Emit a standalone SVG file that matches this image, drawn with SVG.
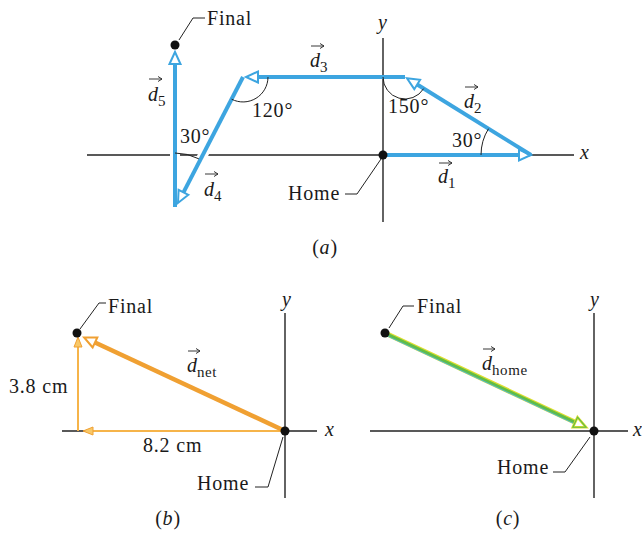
<svg xmlns="http://www.w3.org/2000/svg" width="642" height="537" viewBox="0 0 642 537">
<style>
.t{font-family:"Liberation Serif","Times New Roman",serif;font-size:20px;fill:#1a1a1a;letter-spacing:0.8px}
.v{font-family:"Liberation Serif","Times New Roman",serif;font-size:20px;font-style:italic;fill:#1a1a1a}
.sub{font-style:normal;font-size:15px;letter-spacing:0.6px}
.ax{stroke:#222;stroke-width:1.4;fill:none}
.ld{stroke:#222;stroke-width:1;fill:none}
.arc{stroke:#222;stroke-width:1;fill:none}
.va{stroke:#222;stroke-width:0.9;fill:none;marker-end:url(#va)}
.blue{stroke:#3da5e0;stroke-width:4;fill:none;marker-end:url(#ahB)}
.halo{stroke:#fff;stroke-width:10;fill:none}
.net{stroke:#f0a032;stroke-width:4.5;fill:none;marker-end:url(#ahO)}
.cmp{stroke:#f6b44a;stroke-width:2;fill:none;marker-end:url(#ahC)}
.dot{fill:#111}
</style>
<defs>
<marker id="ahB" markerUnits="userSpaceOnUse" viewBox="-2 -8 17 16" markerWidth="17" markerHeight="16" refX="0" refY="0" orient="auto" overflow="visible">
<path d="M0,-5.5 L12,0 L0,5.5 Z" fill="#fff" stroke="#3da5e0" stroke-width="2"/>
</marker>
<marker id="ahO" markerUnits="userSpaceOnUse" viewBox="-2 -8 17 16" markerWidth="17" markerHeight="16" refX="0" refY="0" orient="auto" overflow="visible">
<path d="M0,-5.5 L12,0 L0,5.5 Z" fill="#fff" stroke="#f0a032" stroke-width="2"/>
</marker>
<marker id="ahC" markerUnits="userSpaceOnUse" viewBox="-2 -6 14 12" markerWidth="14" markerHeight="12" refX="0" refY="0" orient="auto" overflow="visible">
<path d="M0,-4 L10,0 L0,4 Z" fill="#f8c868" stroke="#f0a032" stroke-width="1"/>
</marker>
<marker id="ahG" markerUnits="userSpaceOnUse" viewBox="-2 -8 17 16" markerWidth="17" markerHeight="16" refX="0" refY="0" orient="auto" overflow="visible">
<path d="M0,-5.5 L12,0 L0,5.5 Z" fill="#fff" stroke="#dede30" stroke-width="2.6"/>
<path d="M0,-5.5 L12,0 L0,5.5 Z" fill="none" stroke="#62bd45" stroke-width="1.1"/>
</marker>
<marker id="va" markerUnits="userSpaceOnUse" viewBox="-5 -3 6 6" markerWidth="6" markerHeight="6" refX="0" refY="0" orient="auto" overflow="visible">
<path d="M-4,-2.5 L0,0 L-4,2.5" fill="none" stroke="#222" stroke-width="0.9"/>
</marker>
</defs>

<!-- Panel (a) -->
<g id="axes-a">
<path class="ax" d="M87,155 H574"/>
<path class="ax" d="M383,38 V222"/>
<text class="v" x="580" y="159">x</text>
<text class="v" x="378" y="29">y</text>
</g>
<g id="connectors-a">
<path class="halo" d="M175,200 V70"/>
<path class="halo" d="M240,83 L185,190"/>
<path class="blue" d="M383,155 H519"/>
<path class="blue" d="M531,155 L417.2,84.5"/>
<path class="blue" d="M405,77 H258"/>
<path class="blue" d="M243,77 L183.5,192.3"/>
<path class="blue" d="M175,207 V64"/>
<path class="arc" d="M481,155 A50,50 0 0 1 488.5,128.7"/>
<path class="arc" d="M383,77 A22,22 0 0 0 423.7,88.6"/>
<path class="arc" d="M268,77 A25,25 0 0 1 231.6,99.2"/>
<path class="arc" d="M175,153 A52,52 0 0 1 198.8,158.8"/>
<path class="ld" d="M179,40 L193,18 H205"/>
<path class="ld" d="M345,194 H357 L381,159"/>
</g>
<g id="home-a">
<circle class="dot" cx="383" cy="155" r="4.5"/>
<text class="t" x="288" y="200">Home</text>
</g>
<g id="final-a">
<circle class="dot" cx="175" cy="45" r="4.5"/>
<text class="t" x="207" y="25">Final</text>
</g>
<g id="labels-a">
<text class="v" x="438" y="183">d<tspan class="sub" dy="5">1</tspan></text>
<path class="va" d="M439,163 h13"/>
<text class="v" x="464" y="108">d<tspan class="sub" dy="5">2</tspan></text>
<path class="va" d="M465,87 h13"/>
<text class="v" x="310" y="67">d<tspan class="sub" dy="5">3</tspan></text>
<path class="va" d="M311,46 h13"/>
<text class="v" x="204" y="196">d<tspan class="sub" dy="5">4</tspan></text>
<path class="va" d="M205,174 h13"/>
<text class="v" x="148" y="101">d<tspan class="sub" dy="5">5</tspan></text>
<path class="va" d="M149,79 h13"/>
<text class="t" x="452" y="147">30°</text>
<text class="t" x="388" y="113">150°</text>
<text class="t" x="252" y="117">120°</text>
<text class="t" x="180" y="143">30°</text>
<text class="t" x="325" y="254" text-anchor="middle">(<tspan font-style="italic">a</tspan>)</text>
</g>

<!-- Panel (b) -->
<g id="axes-b">
<path class="ax" d="M62,431 H317"/>
<path class="ax" d="M285,313 V498"/>
<text class="v" x="325" y="436">x</text>
<text class="v" x="282" y="306">y</text>
</g>
<g id="connectors-b">
<path class="cmp" d="M285,431 H93"/>
<path class="cmp" d="M78,431 V347"/>
<path class="net" d="M285,431 L95,342.5"/>
<path class="ld" d="M80,329 L99,303 H106"/>
<path class="ld" d="M255,487 H268 L283,437"/>
</g>
<g id="home-b">
<circle class="dot" cx="285" cy="431" r="4.5"/>
<text class="t" x="197" y="490">Home</text>
</g>
<g id="final-b">
<circle class="dot" cx="77" cy="333" r="4.5"/>
<text class="t" x="108" y="313">Final</text>
</g>
<g id="labels-b">
<text class="v" x="187" y="372">d<tspan class="sub" dy="5">net</tspan></text>
<path class="va" d="M188,351 h12"/>
<text class="t" x="9" y="393">3.8 cm</text>
<text class="t" x="143" y="452">8.2 cm</text>
<text class="t" x="168" y="525" text-anchor="middle">(<tspan font-style="italic">b</tspan>)</text>
</g>

<!-- Panel (c) -->
<g id="axes-c">
<path class="ax" d="M370,431 H628"/>
<path class="ax" d="M594,313 V498"/>
<text class="v" x="633" y="436">x</text>
<text class="v" x="590" y="306">y</text>
</g>
<g id="connectors-c">
<path d="M385,333 L575.2,422.2" stroke="#dede30" stroke-width="5" fill="none"/>
<path d="M385,334.5 L575.2,423.7" stroke="#4fb8d8" stroke-width="1.5" fill="none"/>
<path d="M385,333 L575.2,422.2" stroke="#62bd45" stroke-width="2.6" fill="none" marker-end="url(#ahG)"/>
<path class="ld" d="M389,328 L403,306 H414"/>
<path class="ld" d="M553,472 H565 L590,437"/>
</g>
<g id="home-c">
<circle class="dot" cx="594" cy="431" r="4.5"/>
<text class="t" x="497" y="474">Home</text>
</g>
<g id="final-c">
<circle class="dot" cx="385" cy="333" r="4.5"/>
<text class="t" x="417" y="313">Final</text>
</g>
<g id="labels-c">
<text class="v" x="482" y="370">d<tspan class="sub" dy="5">home</tspan></text>
<path class="va" d="M483,349 h12"/>
<text class="t" x="508" y="525" text-anchor="middle">(<tspan font-style="italic">c</tspan>)</text>
</g>
</svg>
